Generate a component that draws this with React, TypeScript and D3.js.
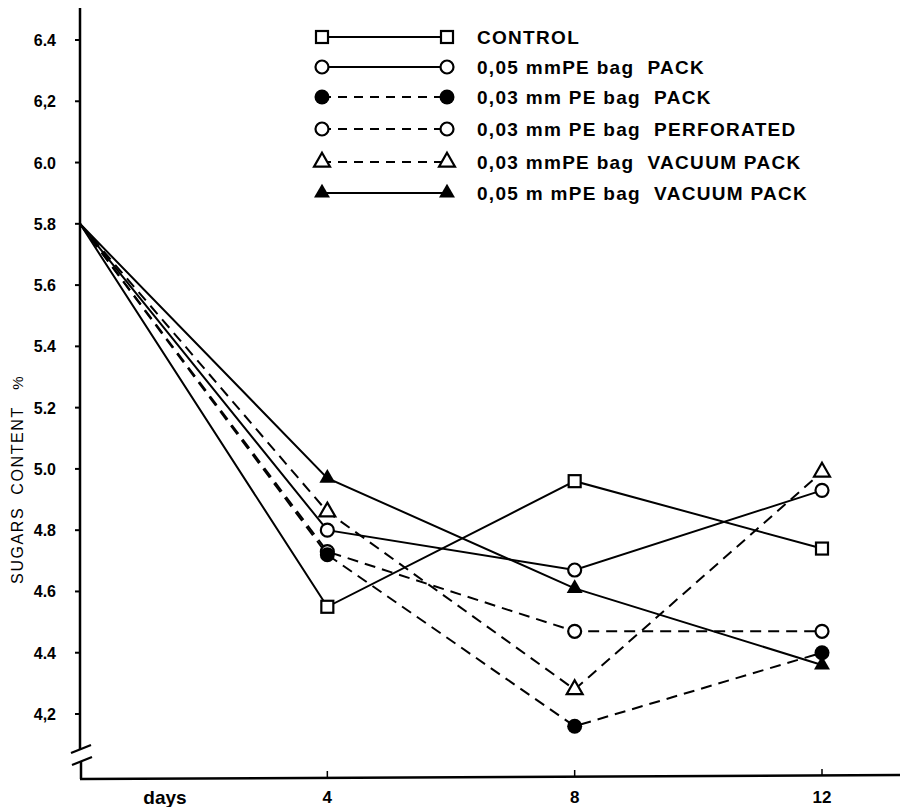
import React from 'react';
import * as d3 from 'd3';

const days = [0, 4, 8, 12];
const control = [5.8, 4.55, 4.96, 4.74];
const pe05Pack = [5.8, 4.8, 4.67, 4.93];
const pe03Pack = [5.8, 4.72, 4.16, 4.4];
const pe03Perforated = [5.8, 4.73, 4.47, 4.47];
const pe03Vacuum = [5.8, 4.86, 4.28, 4.99];
const pe05Vacuum = [5.8, 4.97, 4.61, 4.36];

const yTicks = [4.2, 4.4, 4.6, 4.8, 5.0, 5.2, 5.4, 5.6, 5.8, 6.0, 6.2, 6.4];
const yTickLabels = ['4,2', '4.4', '4.6', '4.8', '5.0', '5.2', '5.4', '5.6', '5.8', '6.0', '6,2', '6.4'];
const xTicks = [4, 8, 12];

const series = [
  { values: control, dashed: false, marker: 'square' },
  { values: pe05Pack, dashed: false, marker: 'openCircle' },
  { values: pe03Perforated, dashed: true, marker: 'openCircle' },
  { values: pe03Pack, dashed: true, marker: 'filledCircle' },
  { values: pe03Vacuum, dashed: true, marker: 'openTriangle' },
  { values: pe05Vacuum, dashed: false, marker: 'filledTriangle' },
];

const legendItems = [
  { label: 'CONTROL', dashed: false, marker: 'square' },
  { label: '0,05 mmPE bag  PACK', dashed: false, marker: 'openCircle' },
  { label: '0,03 mm PE bag  PACK', dashed: true, marker: 'filledCircle' },
  { label: '0,03 mm PE bag  PERFORATED', dashed: true, marker: 'openCircle' },
  { label: '0,03 mmPE bag  VACUUM PACK', dashed: true, marker: 'openTriangle' },
  { label: '0,05 m mPE bag  VACUUM PACK', dashed: false, marker: 'filledTriangle' },
];
const legendRows = [37, 67, 97, 129, 162, 193];

const font = '"Liberation Sans", Arial, sans-serif';

function Marker({ type, x, y }: { type: string; x: number; y: number }) {
  const sw = 2.2;
  if (type === 'square') {
    return <rect x={x - 6} y={y - 6} width={12} height={12} fill="#fff" stroke="#000" strokeWidth={sw} />;
  }
  if (type === 'openCircle') {
    return <circle cx={x} cy={y} r={6.5} fill="#fff" stroke="#000" strokeWidth={sw} />;
  }
  if (type === 'filledCircle') {
    return <circle cx={x} cy={y} r={7.5} fill="#000" />;
  }
  const tri = d3.symbol(d3.symbolTriangle, 110)();
  if (type === 'openTriangle') {
    return <path d={tri ?? ''} transform={`translate(${x},${y})`} fill="#fff" stroke="#000" strokeWidth={sw} />;
  }
  return <path d={tri ?? ''} transform={`translate(${x},${y})`} fill="#000" />;
}

export default function App() {
  const x = d3.scaleLinear().domain([0, 12]).range([80, 822]);
  const y = d3.scaleLinear().domain([4.2, 6.4]).range([714, 40]);
  const axisY = 779;
  const axisX = 80;

  const line = d3
    .line<number>()
    .x((_, i) => x(days[i]))
    .y((d) => y(d));

  return (
    <svg
      width={900}
      height={807}
      style={{ position: 'absolute', left: 0, top: 0, background: '#fff' }}
      fontFamily={font}
    >
      {/* axes with break */}
      <line x1={axisX} y1={8} x2={axisX} y2={750} stroke="#000" strokeWidth={2.5} />
      <line x1={axisX + 1} y1={762} x2={axisX + 1} y2={axisY} stroke="#000" strokeWidth={2.5} />
      <line x1={71} y1={753} x2={91} y2={745} stroke="#000" strokeWidth={2.2} />
      <line x1={72} y1={765} x2={92} y2={757} stroke="#000" strokeWidth={2.2} />
      <line x1={axisX} y1={axisY} x2={900} y2={axisY - 4} stroke="#000" strokeWidth={2.5} />

      {yTicks.map((t, i) => (
        <g key={t}>
          <line x1={axisX - 5} y1={y(t)} x2={axisX} y2={y(t)} stroke="#000" strokeWidth={2} />
          <text x={56} y={y(t) + 6} textAnchor="end" fontSize={16} fontWeight={600}>
            {yTickLabels[i]}
          </text>
        </g>
      ))}

      {xTicks.map((t) => (
        <g key={t}>
          <line x1={x(t)} y1={axisY - 7 - t / 4} x2={x(t)} y2={axisY - t / 3} stroke="#000" strokeWidth={1.5} />
          <text x={x(t)} y={803} textAnchor="middle" fontSize={17} fontWeight={600}>
            {t}
          </text>
        </g>
      ))}
      <text x={165} y={804} textAnchor="middle" fontSize={19} fontWeight={600}>
        days
      </text>

      <text
        transform="translate(23,495) rotate(-90)"
        textAnchor="middle"
        fontSize={16}
        letterSpacing={1.6}
        style={{ whiteSpace: 'pre' }}
      >
        {'SUGARS  CONTENT'}
      </text>
      <text transform="translate(23,383) rotate(-90)" textAnchor="middle" fontSize={15}>
        %
      </text>

      {/* lines */}
      {series.map((s, i) => (
        <path
          key={'l' + i}
          d={line(s.values) ?? ''}
          fill="none"
          stroke="#000"
          strokeWidth={2}
          strokeDasharray={s.dashed ? '11 7' : undefined}
        />
      ))}

      {/* markers */}
      {series.map((s, i) =>
        s.values.slice(1).map((v, j) => (
          <Marker key={`m${i}-${j}`} type={s.marker} x={x(days[j + 1])} y={y(v)} />
        ))
      )}

      {/* legend */}
      {legendItems.map((item, i) => {
        const ly = legendRows[i];
        return (
          <g key={'lg' + i}>
            <line
              x1={322}
              y1={ly}
              x2={447}
              y2={ly}
              stroke="#000"
              strokeWidth={2}
              strokeDasharray={item.dashed ? '9 7' : undefined}
            />
            <Marker type={item.marker} x={322} y={ly} />
            <Marker type={item.marker} x={447} y={ly} />
            <text
              x={477}
              y={ly + 7}
              fontSize={19}
              fontWeight={600}
              letterSpacing={1.3}
              style={{ whiteSpace: 'pre' }}
            >
              {item.label}
            </text>
          </g>
        );
      })}
    </svg>
  );
}
